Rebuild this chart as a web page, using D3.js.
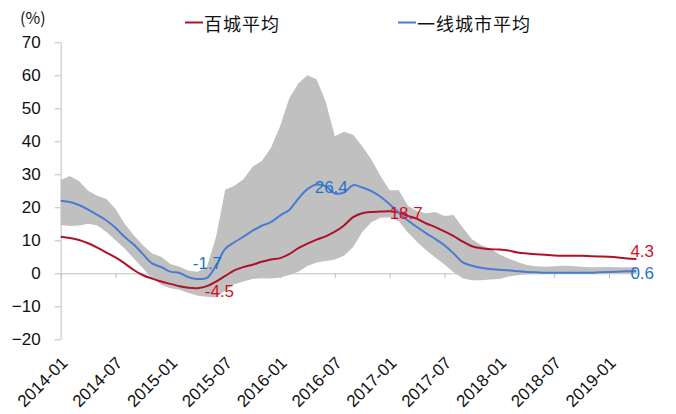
<!DOCTYPE html>
<html>
<head>
<meta charset="utf-8">
<script src="https://cdn.jsdelivr.net/npm/d3@7/dist/d3.min.js"></script>
<style>
  html, body { margin: 0; padding: 0; background: #fff; }
  svg { display: block; }
  .tick text { font-family: "Liberation Sans", Arial, sans-serif; }
</style>
</head>
<body>
<svg id="chart" width="676" height="414"></svg>
<script>
// ---- data ----
const firstYear = 2014, monthCount = 64;   // 2014-01 .. 2019-04
const tickLabels = ["2014-01", "2014-07", "2015-01", "2015-07", "2016-01", "2016-07",
                    "2017-01", "2017-07", "2018-01", "2018-07", "2019-01"];
const yTicks = [-20, -10, 0, 10, 20, 30, 40, 50, 60, 70];

// 百城平均
const cityAvg = [11.1, 10.7, 10.1, 9.1, 7.8, 6.3, 4.8, 3.0, 1.0, -0.6, -1.6, -2.5,
                 -3.2, -3.9, -4.4, -4.5, -3.9, -2.5, -0.8, 0.9, 1.9, 2.6, 3.5, 4.2,
                 4.6, 5.8, 7.6, 9.0, 10.2, 11.2, 12.6, 14.5, 17.0, 18.2, 18.6, 18.7,
                 18.8, 18.4, 17.4, 16.5, 15.1, 14.0, 12.7, 11.3, 9.6, 8.2, 7.6, 7.3,
                 7.2, 6.9, 6.3, 6.0, 5.8, 5.6, 5.4, 5.3, 5.3, 5.3, 5.2, 5.1,
                 5.0, 4.8, 4.5, 4.3];
// 一线城市平均
const tier1Avg = [22.0, 21.6, 20.7, 19.3, 17.7, 16.0, 13.8, 11.0, 8.7, 5.8, 3.0, 1.9,
                  0.5, 0.1, -1.2, -1.7, -1.4, 2.4, 7.4, 9.4, 11.1, 12.9, 14.4, 15.5,
                  17.5, 19.2, 22.6, 25.5, 26.9, 26.4, 24.2, 24.5, 26.7, 26.0, 24.9, 23.2,
                  20.9, 18.4, 16.0, 14.0, 12.1, 10.4, 8.5, 6.0, 3.3, 2.3, 1.7, 1.3,
                  1.1, 0.9, 0.6, 0.4, 0.3, 0.2, 0.2, 0.2, 0.2, 0.2, 0.2, 0.3,
                  0.4, 0.5, 0.6, 0.6];
// gray range band
const bandHigh = [28.3, 29.5, 28.0, 25.0, 23.5, 22.5, 19.5, 15.0, 11.5, 8.5, 6.0, 5.0,
                  2.8, 2.0, 0.8, 0.5, 2.0, 11.0, 25.3, 26.5, 28.5, 32.3, 34.0, 38.0,
                  44.5, 53.0, 57.5, 60.0, 58.8, 52.0, 41.5, 42.9, 42.0, 38.5, 34.5, 29.5,
                  25.2, 25.2, 20.5, 18.8, 18.2, 18.6, 17.4, 17.7, 13.8, 10.3, 8.6, 7.5,
                  5.8, 4.5, 3.4, 2.5, 2.1, 2.0, 2.1, 2.3, 2.2, 2.0, 1.8, 1.8,
                  1.9, 1.8, 1.8, 1.8];
const bandLow = [14.6, 14.3, 14.5, 15.0, 14.5, 12.5, 10.0, 7.5, 4.5, 1.5, -1.5, -3.5,
                 -4.5, -5.0, -6.0, -6.8, -7.1, -7.3, -5.2, -3.3, -2.5, -1.7, -1.5, -1.6,
                 -1.3, -0.5, 0.5, 2.2, 3.3, 3.7, 4.2, 5.3, 8.0, 12.5, 15.5, 16.8,
                 17.0, 15.8, 12.4, 9.5, 7.0, 4.8, 2.7, 0.3, -1.5, -2.1, -2.1, -1.9,
                 -1.7, -1.0, -0.6, -0.3, -0.1, 0.0, 0.0, 0.0, 0.0, 0.0, 0.0, 0.0,
                 0.0, 0.0, 0.0, 0.0];

// data labels: series, month, text
const dataLabels = [
  { series: "tier1", month: "2015-04", text: "-1.7" },
  { series: "city",  month: "2015-04", text: "-4.5" },
  { series: "tier1", month: "2016-06", text: "26.4" },
  { series: "city",  month: "2017-01", text: "18.7" },
  { series: "city",  month: "2019-04", text: "4.3" },
  { series: "tier1", month: "2019-04", text: "0.6" }
];

// ---- layout ----
const months = d3.range(monthCount).map(i =>
  (firstYear + Math.floor(i / 12)) + "-" + String(i % 12 + 1).padStart(2, "0"));

const colors = {
  city: "#B2102A", tier1: "#4A7BD0", band: "#C0C0C0", axis: "#BFBFBF",
  cityLabel: "#D8101C", tier1Label: "#1F74C8"
};
const labelOffsets = {
  "-1.7": [-5, -15], "-4.5": [7, 3], "26.4": [-11, 1.5],
  "18.7": [0, 2.5], "4.3": [-6, -7.5], "0.6": [-6, 2]
};

const svg = d3.select("#chart");

const x = d3.scalePoint().domain(months).range([60.7, 636.4]);
const y = d3.scaleLinear().domain([-20, 70]).range([339.3, 42.3]);

const rows = months.map((m, i) => ({
  month: m, city: cityAvg[i], tier1: tier1Avg[i], hi: bandHigh[i], lo: bandLow[i]
}));

// band
svg.append("path")
  .datum(rows)
  .attr("fill", colors.band)
  .attr("d", d3.area()
    .x(d => x(d.month))
    .y0(d => y(d.lo))
    .y1(d => y(d.hi)));

// y axis
const yAxis = svg.append("g")
  .attr("transform", `translate(${x(months[0])},0)`)
  .call(d3.axisLeft(y).tickValues(yTicks).tickSize(6).tickPadding(14).tickSizeOuter(0));
yAxis.selectAll("path, line").attr("stroke", colors.axis);
yAxis.selectAll("text").attr("font-size", 17).attr("fill", "#111");

// x axis (at zero)
const xAxis = svg.append("g")
  .attr("transform", `translate(0,${y(0)})`)
  .call(d3.axisBottom(x).tickValues(tickLabels).tickSize(5).tickSizeOuter(0).tickFormat(""));
xAxis.selectAll("path, line").attr("stroke", colors.axis);

// x tick labels (low position, rotated)
svg.append("g")
  .selectAll("text")
  .data(tickLabels)
  .join("text")
  .attr("transform", d => `translate(${x(d) + 8},364) rotate(-45)`)
  .attr("text-anchor", "end")
  .attr("font-family", "Liberation Sans, Arial, sans-serif")
  .attr("font-size", 17)
  .attr("fill", "#111")
  .text(d => d);

// lines (smoothed like the source)
const line = key => d3.line().curve(d3.curveCatmullRom.alpha(0.5))
  .x(d => x(d.month)).y(d => y(d[key]));
svg.append("path").datum(rows)
  .attr("fill", "none").attr("stroke", colors.city).attr("stroke-width", 2)
  .attr("d", line("city"));
svg.append("path").datum(rows)
  .attr("fill", "none").attr("stroke", colors.tier1).attr("stroke-width", 2)
  .attr("d", line("tier1"));

// data labels
svg.append("g")
  .selectAll("text")
  .data(dataLabels)
  .join("text")
  .attr("x", d => x(d.month) + labelOffsets[d.text][0])
  .attr("y", d => {
    const v = d.series === "city" ? cityAvg[months.indexOf(d.month)] : tier1Avg[months.indexOf(d.month)];
    return y(v) + labelOffsets[d.text][1];
  })
  .attr("dominant-baseline", "central")
  .attr("font-family", "Liberation Sans, Arial, sans-serif")
  .attr("font-size", 17)
  .attr("fill", d => d.series === "city" ? colors.cityLabel : colors.tier1Label)
  .text(d => d.text);

// unit
svg.append("text")
  .attr("x", 20).attr("y", 17)
  .attr("dominant-baseline", "central")
  .attr("font-family", "Noto Sans CJK SC, sans-serif")
  .attr("font-size", 16)
  .attr("fill", "#111")
  .text("(%)");

// legend
const legend = [
  { name: "百城平均", color: colors.city, x: 185 },
  { name: "一线城市平均", color: colors.tier1, x: 398 }
];
const lg = svg.append("g").selectAll("g").data(legend).join("g")
  .attr("transform", d => `translate(${d.x},22.5)`);
lg.append("line").attr("x1", 0).attr("x2", 18)
  .attr("stroke", d => d.color).attr("stroke-width", 2);
lg.append("text")
  .attr("x", 19)
  .attr("dominant-baseline", "central")
  .attr("font-family", "Noto Sans CJK SC, sans-serif")
  .attr("font-size", 18)
  .attr("letter-spacing", 1)
  .attr("fill", "#111")
  .text(d => d.name);
</script>
</body>
</html>
